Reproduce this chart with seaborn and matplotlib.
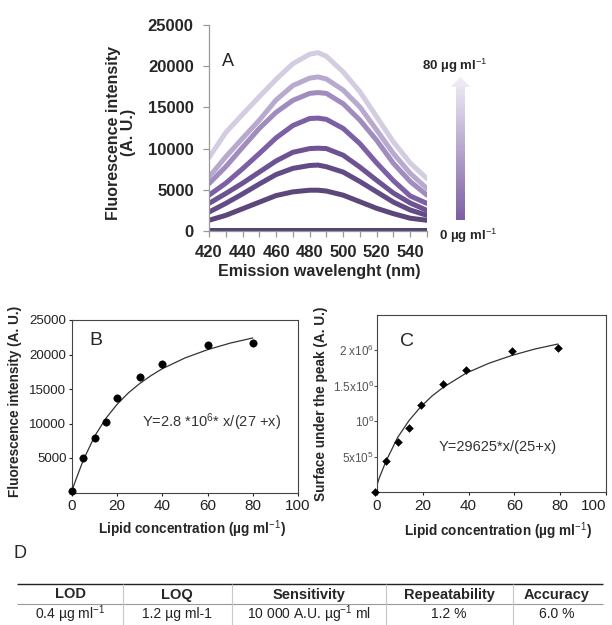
import numpy as np
import pandas as pd
import matplotlib
matplotlib.use('Agg')
import matplotlib.pyplot as plt
import seaborn as sns
from matplotlib.colors import LinearSegmentedColormap
from matplotlib.patches import Polygon

# ---- data ----
wavelengths = [420, 430, 440, 450, 460, 470, 480, 485, 490, 500, 510, 520, 530, 540, 550]
spec_conc = [0, 5, 10, 15, 20, 30, 40, 80]
spec_0 = [150, 150, 150, 150, 150, 150, 150, 150, 150, 150, 150, 150, 150, 150, 150]
spec_5 = [1300, 1900, 2700, 3500, 4300, 4750, 4950, 4950, 4850, 4350, 3550, 2750, 2100, 1550, 1300]
spec_10 = [2300, 3350, 4500, 5700, 6850, 7600, 7950, 8000, 7800, 7150, 6000, 4750, 3500, 2550, 1900]
spec_15 = [3350, 4550, 5800, 7150, 8500, 9550, 10000, 10050, 10000, 9200, 7750, 6150, 4600, 3400, 2500]
spec_20 = [4350, 5800, 7550, 9400, 11300, 12800, 13650, 13700, 13550, 12450, 10600, 8250, 6100, 4250, 3350]
spec_30 = [5750, 7800, 10150, 12450, 14400, 15850, 16700, 16800, 16700, 15450, 13450, 11000, 8200, 6000, 4350]
spec_40 = [6550, 9000, 11250, 13450, 15900, 17650, 18550, 18700, 18450, 17100, 15050, 12250, 9400, 7000, 5150]
spec_80 = [8900, 11950, 14150, 16300, 18400, 20300, 21450, 21650, 21200, 19300, 16900, 13850, 10800, 8250, 6350]
spec_colors = ['#554472', '#5b4779', '#634b87', '#6e5393', '#7c5fa5', '#a08cbf', '#b8a9ce', '#d4cde1']

b_conc = [0, 5, 10, 15, 20, 30, 40, 60, 80]
b_intensity = [200, 4950, 7950, 10150, 13750, 16700, 18650, 21350, 21650]
b_fit_x = [0, 2, 5, 10, 15, 20, 25, 30, 35, 40, 50, 60, 70, 80]
b_fit_y = [300, 2100, 4700, 8150, 10750, 12800, 14450, 15800, 16950, 17950, 19500, 20700, 21650, 22400]

c_conc = [-1, 4, 9, 14, 19, 29, 39, 59, 79]
c_area = [0.0, 0.44e6, 0.71e6, 0.91e6, 1.235e6, 1.53e6, 1.72e6, 1.99e6, 2.03e6]
c_fit_x = [-1, 1, 4, 9, 14, 19, 24, 29, 39, 49, 59, 69, 79]
c_fit_y = [0.0, 0.2e6, 0.44e6, 0.77e6, 1.01e6, 1.2e6, 1.355e6, 1.48e6, 1.68e6, 1.82e6, 1.93e6, 2.02e6, 2.09e6]
c_yticks = [5e5, 1e6, 1.5e6, 2e6]
c_yticklabels = ['5x10$^5$', '10$^6$', '1.5x10$^6$', '2 x10$^6$']

table_headers = ['LOD', 'LOQ', 'Sensitivity', 'Repeatability', 'Accuracy']
table_values = ['0.4 µg ml$^{-1}$', '1.2 µg ml-1', '10 000 A.U. µg$^{-1}$ ml', '1.2 %', '6.0 %']

# ---- style ----
sns.set_style('ticks')
plt.rcParams['font.family'] = ['Liberation Sans', 'DejaVu Sans']
plt.rcParams['mathtext.fontset'] = 'custom'
plt.rcParams['mathtext.rm'] = 'Liberation Sans'
plt.rcParams['mathtext.it'] = 'Liberation Sans:italic'
plt.rcParams['mathtext.bf'] = 'Liberation Sans:bold'

W, H = 612, 625
fig = plt.figure(figsize=(W / 100, H / 100), dpi=100)


def box(l, t, r, b):
    return [l / W, 1 - b / H, (r - l) / W, (b - t) / H]


# ---- panel A ----
axA = fig.add_axes(box(209, 25, 427, 231))
spec_all = [spec_0, spec_5, spec_10, spec_15, spec_20, spec_30, spec_40, spec_80]
df_spec = pd.DataFrame({
    'wavelength': wavelengths * len(spec_conc),
    'intensity': sum(spec_all, []),
    'conc': np.repeat(spec_conc, len(wavelengths)),
})
sns.lineplot(data=df_spec, x='wavelength', y='intensity', hue='conc',
             palette=dict(zip(spec_conc, spec_colors)), lw=3.6,
             solid_joinstyle='round', solid_capstyle='round',
             legend=False, estimator=None, ax=axA)
axA.set_xlim(420, 550)
axA.set_ylim(0, 25000)
axA.set_xticks(range(420, 541, 20))
axA.set_xticks(range(420, 551, 10), minor=True)
axA.set_yticks(range(0, 25001, 5000))
sns.despine(ax=axA)
for s in ['left', 'bottom']:
    axA.spines[s].set_color('#999999')
    axA.spines[s].set_linewidth(0.9)
axA.tick_params(axis='both', which='both', color='#999999', width=0.9, length=4)
axA.tick_params(axis='y', labelsize=12, pad=7)
axA.tick_params(axis='x', labelsize=12, pad=6)
for lab in axA.get_xticklabels() + axA.get_yticklabels():
    lab.set_fontweight('bold')
axA.set_xlabel('Emission wavelenght (nm)', fontsize=11.5, fontweight='bold')
axA.xaxis.set_label_coords(0.505, -0.16)
axA.set_ylabel('Fluorescence intensity\n(A. U.)', fontsize=11.5, fontweight='bold',
               linespacing=1.0)
axA.yaxis.set_label_coords(-0.335, 0.478)
axA.text(13 / 218, 1 - (62 - 25) / 206, 'A', transform=axA.transAxes,
         fontsize=13, ha='left', va='center')

# gradient arrow
cmap = LinearSegmentedColormap.from_list('arr', ['#7d5ea3', '#f3f0f8'])
axArr = fig.add_axes(box(451, 76.7, 470, 220))
axArr.axis('off')
axArr.set_xlim(0, 1)
axArr.set_ylim(0, 1)
grad = np.linspace(0, 1, 256).reshape(-1, 1)
im = axArr.imshow(grad, cmap=cmap, extent=(0, 1, 0, 1), origin='lower', aspect='auto')
arrow = Polygon([(0.263, 0), (0.737, 0), (0.737, 0.93), (1, 0.93), (0.5, 1),
                 (0, 0.93), (0.263, 0.93)], closed=True, transform=axArr.transAxes,
                facecolor='none', edgecolor='none')
axArr.add_patch(arrow)
im.set_clip_path(arrow)
fig.text(455 / W, 1 - 66 / H, '80 µg ml$^{-1}$', fontsize=9.5, fontweight='bold',
         ha='center', va='center')
fig.text(468 / W, 1 - 236 / H, '0 µg ml$^{-1}$', fontsize=9.5, fontweight='bold',
         ha='center', va='center')

# ---- panel B ----
axB = fig.add_axes(box(72, 320, 298, 492.5))
sns.lineplot(x=b_fit_x, y=b_fit_y, color='#333333', lw=0.9, ax=axB)
sns.scatterplot(x=b_conc, y=b_intensity, color='black', s=28, edgecolor='black',
                ax=axB, clip_on=False, zorder=3)
axB.set_xlim(0, 100)
axB.set_ylim(0, 25000)
axB.set_xticks(range(0, 101, 20))
axB.set_yticks(range(5000, 25001, 5000))
for s in axB.spines.values():
    s.set_color('#444444')
    s.set_linewidth(0.8)
axB.tick_params(axis='y', labelsize=9.5, length=2, pad=2, colors='#222222')
axB.tick_params(axis='x', labelsize=11, length=2, pad=3, colors='#222222')
axB.set_xlabel('Lipid concentration (µg ml$^{-1}$)', fontsize=9.8, fontweight='bold')
axB.xaxis.set_label_coords(0.53, -0.15)
axB.set_ylabel('Fluorescence intensity (A. U.)', fontsize=9.8, fontweight='bold')
axB.yaxis.set_label_coords(-0.222, 0.53)
axB.text(0.075, 0.88, 'B', transform=axB.transAxes, fontsize=14, va='center')
axB.text(0.617, 0.41, 'Y=2.8 *10$^6$* x/(27 +x)', transform=axB.transAxes,
         fontsize=10.5, color='#333333', ha='center', va='center')

# ---- panel C ----
axC = fig.add_axes(box(377, 315, 606, 492))
sns.lineplot(x=c_fit_x, y=c_fit_y, color='#333333', lw=0.9, ax=axC)
sns.scatterplot(x=c_conc, y=c_area, color='black', marker='D', s=16,
                edgecolor='black', ax=axC, clip_on=False, zorder=3)
axC.set_xlim(0, 100)
axC.set_ylim(0, 2.5e6)
axC.set_xticks(range(0, 101, 20))
axC.set_yticks(c_yticks)
axC.set_yticklabels(c_yticklabels)
for s in axC.spines.values():
    s.set_color('#444444')
    s.set_linewidth(0.8)
axC.tick_params(axis='y', labelsize=8.5, length=2, pad=0, colors='#555555')
axC.tick_params(axis='x', labelsize=11, length=2, pad=3, colors='#222222')
axC.get_xticklabels()[-1].set_ha('right')
axC.set_xlabel('Lipid concentration (µg ml$^{-1}$)', fontsize=9.8, fontweight='bold')
axC.xaxis.set_label_coords(0.53, -0.16)
axC.set_ylabel('Surface under the peak (A. U.)', fontsize=9.8, fontweight='bold')
axC.yaxis.set_label_coords(-0.214, 0.5)
axC.text(0.1, 0.85, 'C', transform=axC.transAxes, fontsize=14, va='center')
axC.text(0.526, 0.254, 'Y=29625*x/(25+x)', transform=axC.transAxes,
         fontsize=10.5, color='#333333', ha='center', va='center')

# ---- panel D: table ----
fig.text(20 / W, 1 - 553 / H, 'D', fontsize=13, ha='center', va='center')
axT = fig.add_axes([0, 0, 1, 50 / H])
axT.axis('off')
axT.set_xlim(0, W)
axT.set_ylim(H, 575)
axT.hlines(584, 17, 603, color='#222222', lw=1.0)
axT.hlines(604, 17, 603, color='#999999', lw=0.8)
axT.vlines([123, 232, 386, 513], 584, H, color='#c8c8c8', lw=0.8)
col_x = [70, 177, 309, 449, 557]
for x, h, v in zip(col_x, table_headers, table_values):
    axT.text(x, 594.5, h, fontsize=10.5, fontweight='bold', ha='center', va='center')
    axT.text(x, 614, v, fontsize=10, color='#222222', ha='center', va='center')

fig.savefig('out.png', dpi=100)
